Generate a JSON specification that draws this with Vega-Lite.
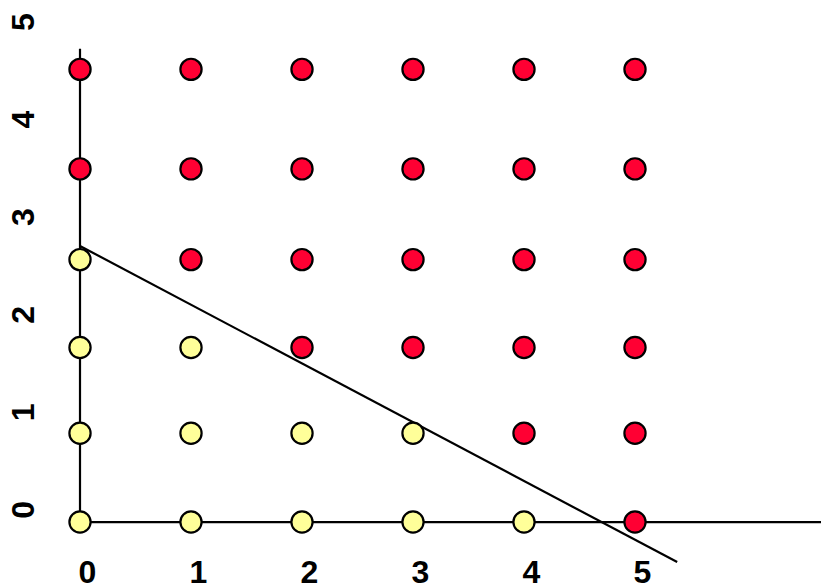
{
  "$schema": "https://vega.github.io/schema/vega-lite/v6.json",
  "width": 781,
  "height": 545,
  "padding": {"left": 40, "top": 0, "right": 0, "bottom": 41},
  "autosize": {"type": "none"},
  "background": "white",
  "datasets": {
    "pts": [
      {"x": 0, "y": -0.13, "cls": "below"},
      {"x": 1, "y": -0.13, "cls": "below"},
      {"x": 2, "y": -0.13, "cls": "below"},
      {"x": 3, "y": -0.13, "cls": "below"},
      {"x": 4, "y": -0.13, "cls": "below"},
      {"x": 5, "y": -0.13, "cls": "above"},
      {"x": 0, "y": 0.78, "cls": "below"},
      {"x": 1, "y": 0.78, "cls": "below"},
      {"x": 2, "y": 0.78, "cls": "below"},
      {"x": 3, "y": 0.78, "cls": "below"},
      {"x": 4, "y": 0.78, "cls": "above"},
      {"x": 5, "y": 0.78, "cls": "above"},
      {"x": 0, "y": 1.66, "cls": "below"},
      {"x": 1, "y": 1.66, "cls": "below"},
      {"x": 2, "y": 1.66, "cls": "above"},
      {"x": 3, "y": 1.66, "cls": "above"},
      {"x": 4, "y": 1.66, "cls": "above"},
      {"x": 5, "y": 1.66, "cls": "above"},
      {"x": 0, "y": 2.56, "cls": "below"},
      {"x": 1, "y": 2.56, "cls": "above"},
      {"x": 2, "y": 2.56, "cls": "above"},
      {"x": 3, "y": 2.56, "cls": "above"},
      {"x": 4, "y": 2.56, "cls": "above"},
      {"x": 5, "y": 2.56, "cls": "above"},
      {"x": 0, "y": 3.49, "cls": "above"},
      {"x": 1, "y": 3.49, "cls": "above"},
      {"x": 2, "y": 3.49, "cls": "above"},
      {"x": 3, "y": 3.49, "cls": "above"},
      {"x": 4, "y": 3.49, "cls": "above"},
      {"x": 5, "y": 3.49, "cls": "above"},
      {"x": 0, "y": 4.51, "cls": "above"},
      {"x": 1, "y": 4.51, "cls": "above"},
      {"x": 2, "y": 4.51, "cls": "above"},
      {"x": 3, "y": 4.51, "cls": "above"},
      {"x": 4, "y": 4.51, "cls": "above"},
      {"x": 5, "y": 4.51, "cls": "above"}
    ],
    "segs": [
      {"x": 0, "y": -0.13, "x2": 0, "y2": 4.72, "kind": "axis"},
      {"x": 0, "y": -0.13, "x2": 6.68, "y2": -0.13, "kind": "axis"},
      {"x": 0, "y": 2.70, "x2": 5.38, "y2": -0.54, "kind": "boundary"}
    ]
  },
  "layer": [
    {
      "data": {"name": "segs"},
      "mark": {"type": "rule", "color": "black", "strokeWidth": 2.2},
      "encoding": {
        "x": {"field": "x", "type": "quantitative", "scale": {"domain": [-0.3604, 6.6757], "nice": false, "zero": false}, "axis": {"title": null, "values": [0, 1, 2, 3, 4, 5]}},
        "y": {"field": "y", "type": "quantitative", "scale": {"domain": [-0.3649, 5.2209], "nice": false, "zero": false}, "axis": {"title": null, "values": [0, 1, 2, 3, 4, 5]}},
        "x2": {"field": "x2"},
        "y2": {"field": "y2"}
      }
    },
    {
      "data": {"name": "pts"},
      "mark": {"type": "point", "shape": "circle", "filled": true, "size": 450, "stroke": "black", "strokeWidth": 2.2, "opacity": 1, "fillOpacity": 1},
      "encoding": {
        "x": {"field": "x", "type": "quantitative", "axis": {"title": null, "values": [0, 1, 2, 3, 4, 5]}},
        "y": {"field": "y", "type": "quantitative", "axis": {"title": null, "values": [0, 1, 2, 3, 4, 5]}},
        "fill": {"field": "cls", "type": "nominal", "scale": {"domain": ["below", "above"], "range": ["#ffff99", "#ff0033"]}, "legend": null}
      }
    }
  ],
  "config": {
    "view": {"stroke": null},
    "axis": {
      "domain": false,
      "ticks": false,
      "grid": false,
      "labelFont": "Liberation Sans",
      "labelFontWeight": "bold",
      "labelColor": "black",
      "labelOverlap": false,
      "labelFlush": false,
      "labelBound": false
    },
    "axisX": {"labelFontSize": 32, "labelPadding": 37, "labelOffset": 7, "labelAngle": 0, "labelBaseline": "alphabetic"},
    "axisY": {"labelFontSize": 32, "labelAngle": 270, "labelAlign": "center", "labelBaseline": "alphabetic", "labelPadding": 7}
  }
}
